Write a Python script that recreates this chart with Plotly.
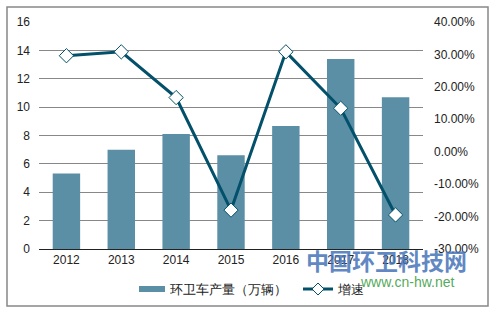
import plotly.graph_objects as go

years = ["2012", "2013", "2014", "2015", "2016", "2017", "2018"]
output = [5.33, 7.0, 8.1, 6.6, 8.67, 13.4, 10.7]
growth = [29.6, 30.8, 16.7, -18.0, 30.8, 13.4, -19.5]
left_ticks = [0, 2, 4, 6, 8, 10, 12, 14, 16]
right_ticks = [-30, -20, -10, 0, 10, 20, 30, 40]
bar_name = "环卫车产量（万辆）"
line_name = "增速"

W, H = 496, 313
L, R, T, B = 39, 73, 22, 64
pw, ph = W - L - R, H - T - B
BAR_C = "#5b8fa6"
LINE_C = "#02506a"


def px(x):
    return (x - L) / pw


def py(y):
    return (H - B - y) / ph


fig = go.Figure()
fig.add_trace(go.Bar(x=years, y=output, name=bar_name,
                     marker=dict(color=BAR_C, line=dict(width=0)), yaxis="y"))
fig.add_trace(go.Scatter(x=years, y=growth, name=line_name, mode="lines+markers",
                         line=dict(color=LINE_C, width=3),
                         marker=dict(symbol="diamond", size=11, color="white",
                                     line=dict(color=LINE_C, width=1)),
                         yaxis="y2"))

# custom legend geometry (pixels)
lg_y = 289
dx, dy = 6, 6
diamond_path = (f"M {px(318 - dx)} {py(lg_y)} L {px(318)} {py(lg_y - dy)} "
                f"L {px(318 + dx)} {py(lg_y)} L {px(318)} {py(lg_y + dy)} Z")

font = dict(family="Liberation Sans, Arial, sans-serif", size=12, color="#222")
fig.update_layout(
    width=W, height=H,
    margin=dict(l=L, r=R, t=T, b=B, autoexpand=False),
    paper_bgcolor="white", plot_bgcolor="white",
    font=font,
    bargap=0.5,
    showlegend=False,
    xaxis=dict(showgrid=False, showline=True, linecolor="#222", linewidth=1,
               ticks="", tickfont=dict(size=12)),
    yaxis=dict(range=[0, 16], tickvals=left_ticks, showgrid=True, gridcolor="#888",
               gridwidth=1, zeroline=False, showline=False, ticks="",
               ticklabelstandoff=8),
    yaxis2=dict(range=[-30, 40], tickvals=right_ticks,
                ticktext=[f"{v:.2f}%" for v in right_ticks],
                overlaying="y", side="right", showgrid=False, zeroline=False,
                showline=False, ticks="", ticklabelstandoff=10),
    shapes=[
        dict(type="rect", xref="paper", yref="paper",
             x0=px(7), x1=px(488), y0=py(306), y1=py(7),
             line=dict(color="#888", width=1.5), fillcolor="rgba(0,0,0,0)", layer="below"),
        dict(type="rect", xref="paper", yref="paper",
             x0=px(139), x1=px(165), y0=py(lg_y + 3), y1=py(lg_y - 3),
             line=dict(width=0), fillcolor=BAR_C),
        dict(type="line", xref="paper", yref="paper",
             x0=px(303), x1=px(333), y0=py(lg_y), y1=py(lg_y),
             line=dict(color=LINE_C, width=3)),
        dict(type="path", xref="paper", yref="paper", path=diamond_path,
             fillcolor="white", line=dict(color=LINE_C, width=1)),
    ],
    annotations=[
        dict(text=bar_name, xref="paper", yref="paper", x=px(168), y=py(lg_y),
             xanchor="left", yanchor="middle", showarrow=False,
             font=dict(size=13, color="#222")),
        dict(text=line_name, xref="paper", yref="paper", x=px(335), y=py(lg_y),
             xanchor="left", yanchor="middle", showarrow=False,
             font=dict(size=13, color="#222")),
        dict(text="<b>中国环卫科技网</b>", xref="paper", yref="paper",
             x=px(386), y=py(260), showarrow=False, xanchor="center", yanchor="middle",
             font=dict(family="Noto Sans CJK SC", size=23, color="rgba(70,115,185,0.85)")),
        dict(text="www.cn-hw.net", xref="paper", yref="paper",
             x=px(407), y=py(282), showarrow=False, xanchor="center", yanchor="middle",
             font=dict(family="Liberation Sans", size=14, color="rgba(60,160,70,0.9)")),
    ],
)
fig.write_html("out.html")
